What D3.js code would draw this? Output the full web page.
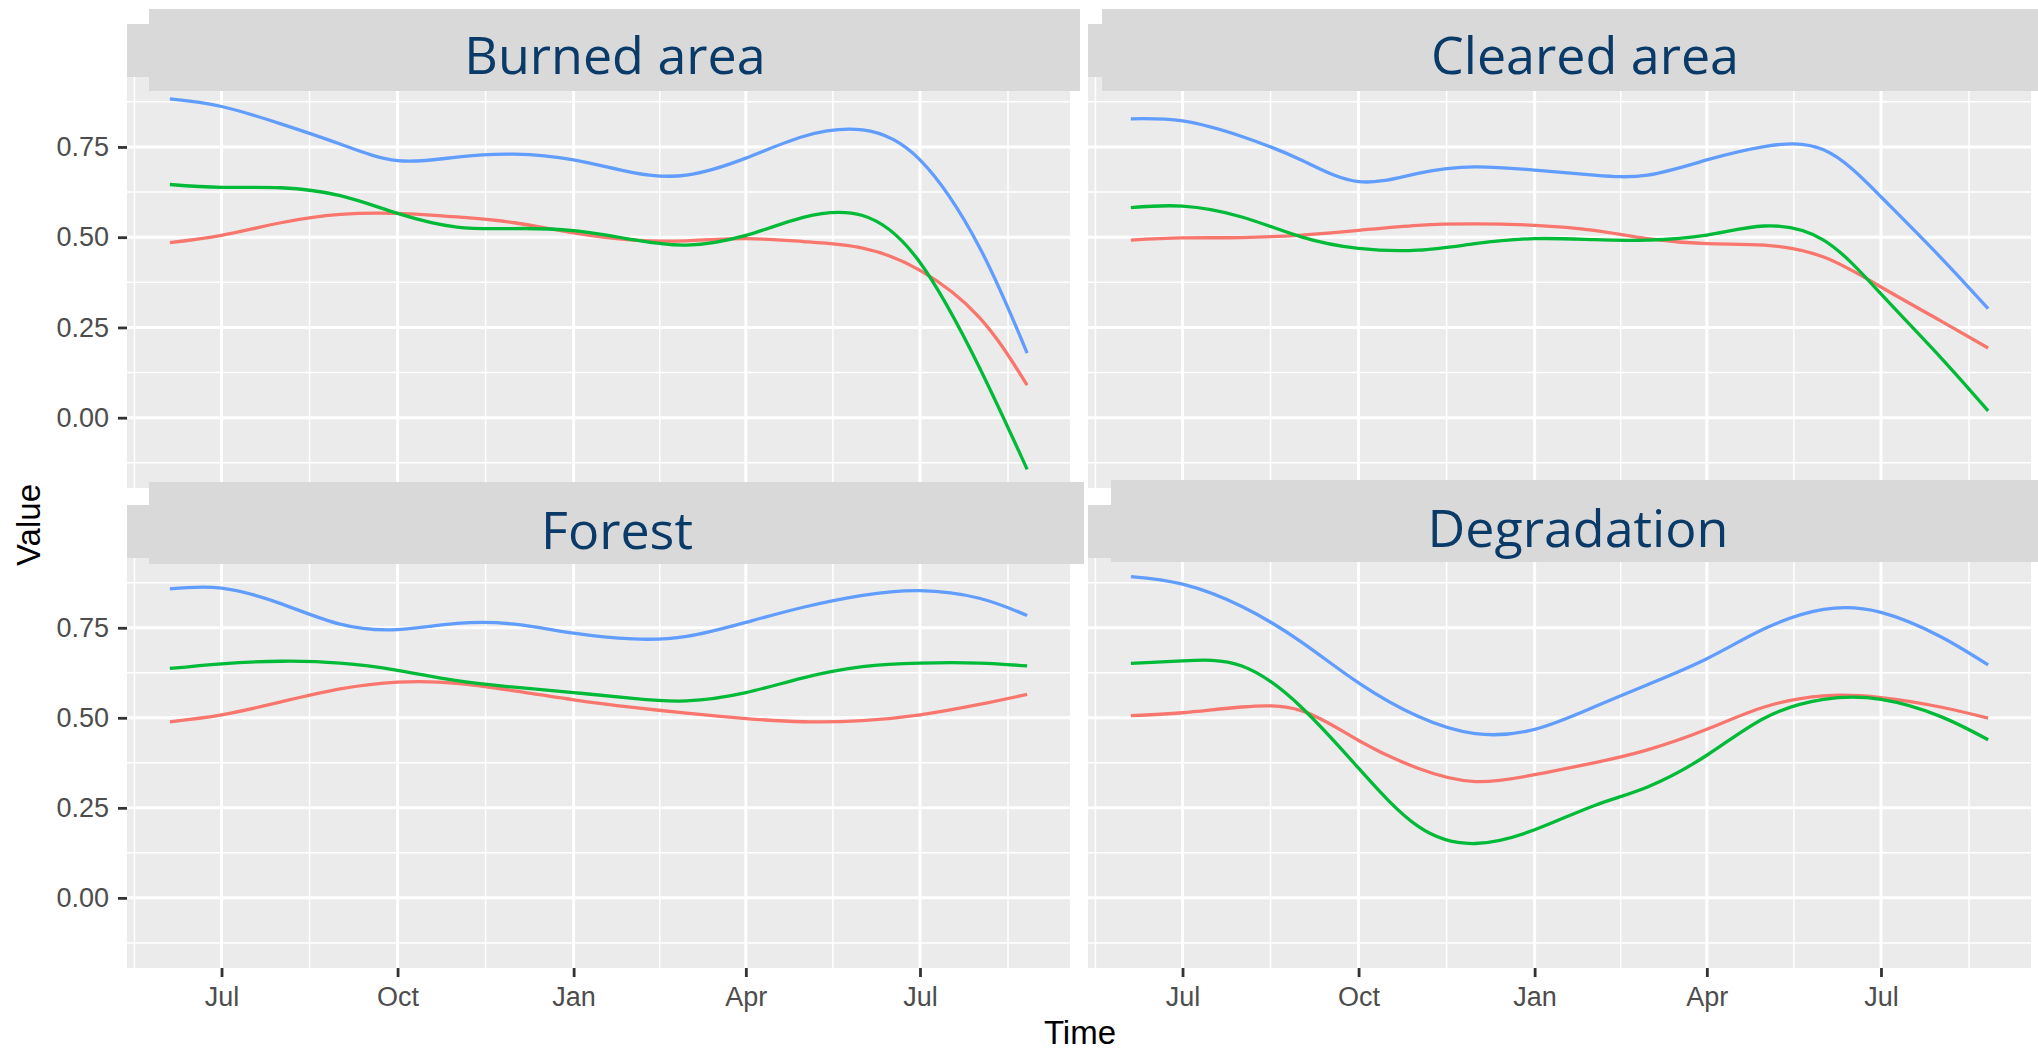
<!DOCTYPE html>
<html>
<head>
<meta charset="utf-8">
<script src="https://cdn.jsdelivr.net/npm/d3@7"></script>
<style>
  body { margin: 0; background: #fff; }
  svg { display: block; }
</style>
</head>
<body>
<svg id="chart"></svg>
<script>
// sample dates along the smoothed curves
const sampleDates = ["2017-06-04", "2017-07-01", "2017-08-01", "2017-09-01", "2017-10-01",
  "2017-11-01", "2017-12-01", "2018-01-01", "2018-02-01", "2018-03-01", "2018-04-01",
  "2018-05-01", "2018-06-01", "2018-07-01", "2018-08-01", "2018-08-26"];

const panelNames = ["Burned area", "Cleared area", "Forest", "Degradation"];
const groupColors = ["#F8766D", "#00BA38", "#619CFF"];

// values, one array per panel and group
const burnedRed   = [0.485, 0.505, 0.540, 0.563, 0.566, 0.556, 0.540, 0.512, 0.492, 0.490, 0.496, 0.488, 0.470, 0.408, 0.278, 0.090];
const burnedGreen = [0.646, 0.638, 0.637, 0.615, 0.566, 0.528, 0.524, 0.518, 0.493, 0.478, 0.505, 0.555, 0.560, 0.430, 0.140, -0.143];
const burnedBlue  = [0.883, 0.862, 0.814, 0.758, 0.712, 0.722, 0.730, 0.714, 0.679, 0.672, 0.719, 0.779, 0.797, 0.714, 0.473, 0.179];

const clearedRed   = [0.492, 0.498, 0.499, 0.506, 0.519, 0.533, 0.537, 0.533, 0.519, 0.496, 0.482, 0.478, 0.445, 0.362, 0.269, 0.193];
const clearedGreen = [0.582, 0.586, 0.556, 0.501, 0.469, 0.464, 0.482, 0.496, 0.493, 0.492, 0.506, 0.531, 0.492, 0.343, 0.168, 0.019];
const clearedBlue  = [0.828, 0.822, 0.779, 0.714, 0.654, 0.677, 0.695, 0.686, 0.672, 0.672, 0.714, 0.751, 0.742, 0.612, 0.445, 0.302];

const forestRed   = [0.489, 0.508, 0.544, 0.580, 0.599, 0.596, 0.575, 0.550, 0.529, 0.513, 0.498, 0.489, 0.492, 0.508, 0.537, 0.565];
const forestGreen = [0.637, 0.650, 0.657, 0.652, 0.632, 0.603, 0.585, 0.570, 0.554, 0.547, 0.570, 0.611, 0.642, 0.652, 0.652, 0.644];
const forestBlue  = [0.858, 0.860, 0.817, 0.760, 0.745, 0.762, 0.760, 0.735, 0.719, 0.726, 0.765, 0.807, 0.840, 0.853, 0.832, 0.784];

const degradRed   = [0.506, 0.514, 0.530, 0.520, 0.437, 0.360, 0.323, 0.342, 0.375, 0.411, 0.468, 0.530, 0.561, 0.556, 0.530, 0.499];
const degradGreen = [0.651, 0.658, 0.644, 0.530, 0.360, 0.199, 0.151, 0.189, 0.256, 0.308, 0.396, 0.499, 0.551, 0.551, 0.504, 0.439];
const degradBlue  = [0.892, 0.871, 0.809, 0.711, 0.597, 0.504, 0.456, 0.468, 0.530, 0.592, 0.664, 0.747, 0.801, 0.793, 0.726, 0.647];

const yMajor = [0, 0.25, 0.5, 0.75];

// ---- layout ----
const width = 2038, height = 1052;
const cols = [[127, 1070], [1088, 2031]];
const rows = [[77, 488], [558, 968]];
// the big label boxes pasted over the facet strips
const labelBoxes = [
  {x0: 149, x1: 1080, y0: 9, y1: 91, cx: 615, base: 74},
  {x0: 1102, x1: 2068, y0: 9, y1: 91, cx: 1585, base: 74},
  {x0: 149, x1: 1084, y0: 482, y1: 564, cx: 617, base: 549},
  {x0: 1111, x1: 2045, y0: 480, y1: 562, cx: 1578, base: 547}
];

const parse = d3.timeParse("%Y-%m-%d");
const dates = sampleDates.map(parse);
const seriesByPanel = [
  [burnedRed, burnedGreen, burnedBlue],
  [clearedRed, clearedGreen, clearedBlue],
  [forestRed, forestGreen, forestBlue],
  [degradRed, degradGreen, degradBlue]
];

// shared (fixed) scales, expanded 5% like ggplot
const tExt = d3.extent(dates);
const tPad = (tExt[1] - tExt[0]) * 0.05;
const tDomain = [new Date(+tExt[0] - tPad), new Date(+tExt[1] + tPad)];
const allVals = seriesByPanel.flat(2);
const vExt = d3.extent(allVals);
const vPad = (vExt[1] - vExt[0]) * 0.05;
const vDomain = [vExt[0] - vPad, vExt[1] + vPad];

// major date breaks every 3 months, minor at midpoints
const majorAll = d3.timeMonth.every(3).range(d3.timeMonth.offset(tDomain[0], -3), d3.timeMonth.offset(tDomain[1], 3));
const inT = d => d >= tDomain[0] && d <= tDomain[1];
const xMajor = majorAll.filter(inT);
const xMinor = d3.pairs(majorAll).map(p => new Date((+p[0] + +p[1]) / 2)).filter(inT);
const yMinor = d3.pairs([-0.25].concat(yMajor, [1])).map(p => (p[0] + p[1]) / 2)
  .filter(v => v >= vDomain[0] && v <= vDomain[1]);

const svg = d3.select("#chart").attr("width", width).attr("height", height);
svg.append("rect").attr("width", width).attr("height", height).attr("fill", "#fff");

panelNames.forEach((name, i) => {
  const c = i % 2, r = Math.floor(i / 2);
  const x = d3.scaleTime().domain(tDomain).range(cols[c]);
  const y = d3.scaleLinear().domain(vDomain).range([rows[r][1], rows[r][0]]);
  const g = svg.append("g");

  // ggplot strip under the label box
  g.append("rect")
    .attr("x", cols[c][0]).attr("y", rows[r][0] - 53)
    .attr("width", cols[c][1] - cols[c][0]).attr("height", 53)
    .attr("fill", "#D9D9D9");

  g.append("rect")
    .attr("x", cols[c][0]).attr("y", rows[r][0])
    .attr("width", cols[c][1] - cols[c][0]).attr("height", rows[r][1] - rows[r][0])
    .attr("fill", "#EBEBEB");

  // grid
  g.selectAll(".vminor").data(xMinor).enter().append("line")
    .attr("x1", d => x(d)).attr("x2", d => x(d))
    .attr("y1", rows[r][0]).attr("y2", rows[r][1])
    .attr("stroke", "#fff").attr("stroke-width", 1.5);
  g.selectAll(".hminor").data(yMinor).enter().append("line")
    .attr("y1", d => y(d)).attr("y2", d => y(d))
    .attr("x1", cols[c][0]).attr("x2", cols[c][1])
    .attr("stroke", "#fff").attr("stroke-width", 1.5);
  g.selectAll(".vmajor").data(xMajor).enter().append("line")
    .attr("x1", d => x(d)).attr("x2", d => x(d))
    .attr("y1", rows[r][0]).attr("y2", rows[r][1])
    .attr("stroke", "#fff").attr("stroke-width", 3);
  g.selectAll(".hmajor").data(yMajor).enter().append("line")
    .attr("y1", d => y(d)).attr("y2", d => y(d))
    .attr("x1", cols[c][0]).attr("x2", cols[c][1])
    .attr("stroke", "#fff").attr("stroke-width", 3);

  // smoothed curves
  const line = d3.line()
    .x((d, k) => x(dates[k]))
    .y(d => y(d))
    .curve(d3.curveNatural);
  seriesByPanel[i].forEach((vals, k) => {
    g.append("path")
      .attr("d", line(vals))
      .attr("fill", "none")
      .attr("stroke", groupColors[k])
      .attr("stroke-width", 3.3);
  });

  // axes only on the outer panels
  if (r === 1) {
    const ax = g.append("g")
      .attr("transform", "translate(0," + rows[r][1] + ")")
      .call(d3.axisBottom(x).tickValues(xMajor).tickFormat(d3.timeFormat("%b")).tickSize(9).tickPadding(10));
    ax.select(".domain").remove();
    ax.selectAll("line").attr("stroke", "#333").attr("stroke-width", 2.8);
    ax.selectAll("text").attr("fill", "#4D4D4D").style("font-family", "Liberation Sans, Arial, sans-serif").style("font-size", "27px");
  }
  if (c === 0) {
    const ay = g.append("g")
      .attr("transform", "translate(" + cols[c][0] + ",0)")
      .call(d3.axisLeft(y).tickValues(yMajor).tickFormat(d3.format(".2f")).tickSize(9).tickPadding(9));
    ay.select(".domain").remove();
    ay.selectAll("line").attr("stroke", "#333").attr("stroke-width", 2.8);
    ay.selectAll("text").attr("fill", "#4D4D4D").style("font-family", "Liberation Sans, Arial, sans-serif").style("font-size", "27px");
  }
});

// label boxes on top
labelBoxes.forEach((b, i) => {
  svg.append("rect")
    .attr("x", b.x0).attr("y", b.y0)
    .attr("width", b.x1 - b.x0).attr("height", b.y1 - b.y0)
    .attr("fill", "#D9D9D9");
  svg.append("text")
    .attr("x", b.cx).attr("y", b.base)
    .attr("text-anchor", "middle")
    .attr("fill", "#0A3A68")
    .style("font-family", "Open Sans, sans-serif")
    .style("font-size", "52px")
    .text(panelNames[i]);
});

// axis titles
svg.append("text")
  .attr("x", 1080).attr("y", 1044)
  .attr("text-anchor", "middle")
  .style("font-family", "Liberation Sans, Arial, sans-serif")
  .style("font-size", "33px")
  .text("Time");
svg.append("text")
  .attr("transform", "translate(40,525) rotate(-90)")
  .attr("text-anchor", "middle")
  .style("font-family", "Liberation Sans, Arial, sans-serif")
  .style("font-size", "33px")
  .text("Value");
</script>
</body>
</html>
